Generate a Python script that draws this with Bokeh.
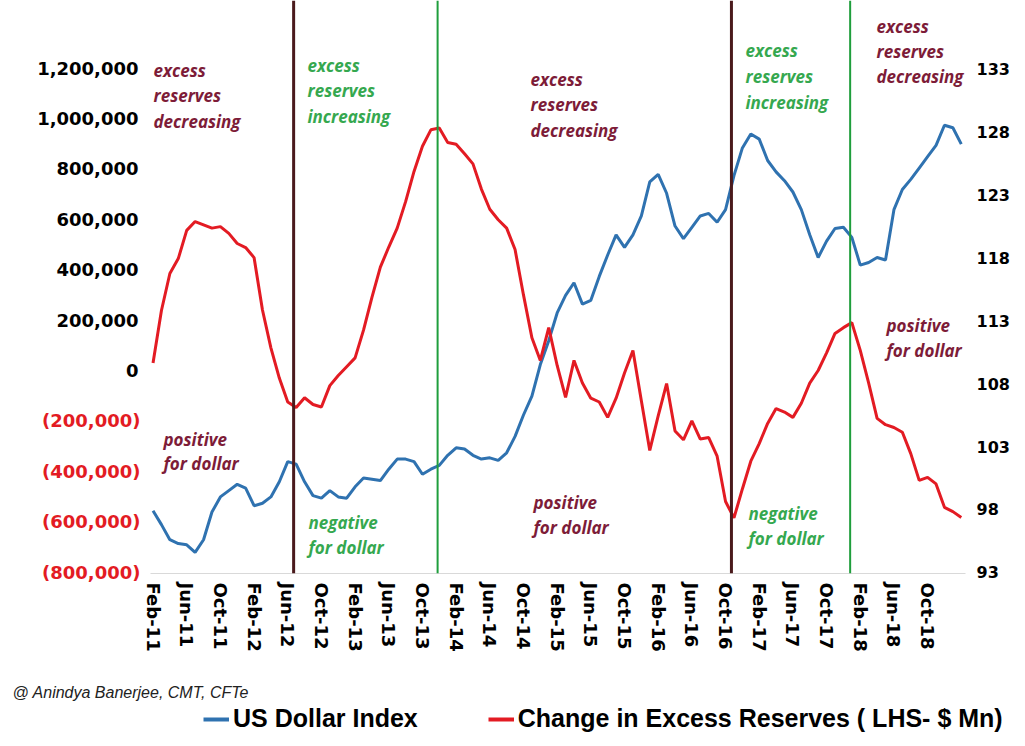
from bokeh.plotting import figure
from bokeh.layouts import column
from bokeh.models import (LinearAxis, Range1d, FixedTicker, Span, Legend,
                          LegendItem, ColumnDataSource)
from bokeh.core.properties import value
from bokeh.embed import file_html
from bokeh.resources import INLINE

# ---------------- data ----------------
MONTH_INDEX = list(range(97))  # Feb-11 ... Feb-19, monthly
TICK_INDEX = list(range(0, 93, 4))
TICK_LABELS = ["Feb-11", "Jun-11", "Oct-11", "Feb-12", "Jun-12", "Oct-12", "Feb-13", "Jun-13",
               "Oct-13", "Feb-14", "Jun-14", "Oct-14", "Feb-15", "Jun-15", "Oct-15", "Feb-16",
               "Jun-16", "Oct-16", "Feb-17", "Jun-17", "Oct-17", "Feb-18", "Jun-18", "Oct-18"]

EXCESS_RESERVES_CHG = [
    30000, 238000, 385000, 444000, 556000, 591000, 578000, 565000, 571000, 544000,
    504000, 488000, 448000, 240000, 90000, -30000, -125000, -147000, -108000, -135000,
    -145000, -60000, -20000, 15000, 50000, 160000, 290000, 410000, 490000, 565000,
    670000, 790000, 890000, 955000, 962000, 905000, 898000, 860000, 820000, 720000,
    640000, 598000, 565000, 480000, 300000, 130000, 40000, 170000, 20000, -107000,
    40000, -50000, -110000, -125000, -186000, -110000, -10000, 79000, -120000, -317000,
    -180000, -52000, -240000, -275000, -200000, -272000, -266000, -340000, -520000, -585000,
    -470000, -360000, -290000, -210000, -151000, -165000, -186000, -130000, -50000, 0,
    70000, 147000, 170000, 190000, 80000, -50000, -190000, -215000, -226000, -245000,
    -330000, -436000, -424000, -450000, -543000, -560000, -583000]

USD_INDEX = [
    97.9, 96.8, 95.6, 95.3, 95.2, 94.6, 95.6, 97.8, 99.0, 99.5,
    100.0, 99.7, 98.3, 98.5, 99.0, 100.2, 101.8, 101.6, 100.2, 99.1,
    98.9, 99.5, 99.0, 98.9, 99.8, 100.5, 100.4, 100.3, 101.2, 102.0,
    102.0, 101.8, 100.8, 101.2, 101.5, 102.3, 102.9, 102.8, 102.3, 102.0,
    102.1, 101.9, 102.5, 103.8, 105.5, 107.0, 109.5, 111.4, 113.6, 115.0,
    116.0, 114.3, 114.6, 116.5, 118.2, 119.8, 118.8, 119.8, 121.3, 124.0,
    124.6, 123.1, 120.5, 119.5, 120.4, 121.3, 121.5, 120.8, 121.8, 124.5,
    126.7, 127.8, 127.4, 125.7, 124.8, 124.1, 123.2, 121.8, 119.8, 118.0,
    119.3, 120.3, 120.4, 119.6, 117.4, 117.6, 118.0, 117.8, 121.8, 123.4,
    124.2, 125.1, 126.0, 126.9, 128.5, 128.3, 127.0]

LEFT_POS_TICKS = [1200000, 1000000, 800000, 600000, 400000, 200000, 0]
LEFT_NEG_TICKS = [-200000, -400000, -600000, -800000]
RIGHT_TICKS = [93, 98, 103, 108, 113, 118, 123, 128, 133]

# turning points (month index) marked by vertical lines
TURNS_DOWN = [16.7, 68.7]   # dark lines
TURNS_UP = [33.8, 82.8]     # green lines

# ---------------- geometry ----------------
W = 1024
H_MAIN, H_FOOT = 668, 77
FRAME_L, FRAME_R, FRAME_T, FRAME_B = 150, 965, 0, 573  # image coords
XS, XE = -0.3, 96.5
YS, YE = -805555, 1468254
RS, RE = 92.92, 138.40


def ix(px):
    return XS + (px - FRAME_L) / (FRAME_R - FRAME_L) * (XE - XS)


def ly(py):
    return YE - (py - FRAME_T) / (FRAME_B - FRAME_T) * (YE - YS)


MAROON = "#7d1c38"
GREEN = "#35a84f"
BLUE = "#2f72b0"
RED = "#e31b23"
TICK_FONT = "DejaVu Sans"
LEFT_SIZE = 18
LEFT_STANDOFF = 12
# width of the widest black label "1,200,000" (DejaVu Sans Bold advances, em units)
INNER_AXIS_W = LEFT_STANDOFF + (7 * 0.696 + 2 * 0.380) * LEFT_SIZE

p = figure(width=W, height=H_MAIN, output_backend="svg", toolbar_location=None,
           x_range=Range1d(XS, XE), y_range=Range1d(YS, YE),
           min_border_left=FRAME_L, min_border_right=W - FRAME_R,
           min_border_top=FRAME_T, min_border_bottom=H_MAIN - FRAME_B)
p.frame_align = False
p.extra_y_ranges = {"right": Range1d(RS, RE)}
p.outline_line_color = None
p.xgrid.visible = False
p.ygrid.visible = False
p.background_fill_color = "white"
p.border_fill_color = "white"

# vertical lines
for loc in TURNS_DOWN:
    p.add_layout(Span(location=loc, dimension="height", line_color="#4a1a1c", line_width=3))
for loc in TURNS_UP:
    p.add_layout(Span(location=loc, dimension="height", line_color="#1f9e3c", line_width=2))

src = ColumnDataSource(dict(x=MONTH_INDEX, red=EXCESS_RESERVES_CHG, blue=USD_INDEX))
r_blue = p.line("x", "blue", source=src, line_color=BLUE, line_width=3, y_range_name="right")
r_red = p.line("x", "red", source=src, line_color=RED, line_width=3)


def style_axis(ax, color, size):
    ax.major_label_text_font = TICK_FONT
    ax.major_label_text_font_style = "bold"
    ax.major_label_text_font_size = f"{size}px"
    ax.major_label_text_color = color
    ax.axis_line_color = None
    ax.major_tick_line_color = None
    ax.minor_tick_line_color = None
    ax.major_tick_out = 0
    ax.major_tick_in = 0


# x axis
xa = p.xaxis[0]
xa.ticker = FixedTicker(ticks=TICK_INDEX)
xa.major_label_overrides = {t: l for t, l in zip(TICK_INDEX, TICK_LABELS)}
style_axis(xa, "black", 18)
xa.major_label_orientation = "vertical"
xa.axis_line_color = "#d9d9d9"
xa.major_label_standoff = 9

# left axis: positive values in black
ya = p.yaxis[0]
ya.ticker = FixedTicker(ticks=LEFT_POS_TICKS)
ya.major_label_overrides = {t: f"{t:,}" for t in LEFT_POS_TICKS}
style_axis(ya, "black", LEFT_SIZE)
ya.major_label_standoff = LEFT_STANDOFF

# second left axis: negative values in red, pulled back onto the same column
yn = LinearAxis(ticker=FixedTicker(ticks=LEFT_NEG_TICKS))
yn.major_label_overrides = {t: f"({-t:,})" for t in LEFT_NEG_TICKS}
style_axis(yn, RED, LEFT_SIZE)
yn.major_label_standoff = int(round(LEFT_STANDOFF - INNER_AXIS_W)) - 5
p.add_layout(yn, "left")

# right axis
ra = LinearAxis(y_range_name="right", ticker=FixedTicker(ticks=RIGHT_TICKS))
style_axis(ra, "black", 16)
ra.major_label_standoff = 11
p.add_layout(ra, "right")

# annotations (left x, centre y of each line in image pixels)
NOTES = [
    (153, [70, 95, 121], ["excess", "reserves", "decreasing"], MAROON),
    (307, [65, 90, 116], ["excess", "reserves", "increasing"], GREEN),
    (530, [79, 104, 130], ["excess", "reserves", "decreasing"], MAROON),
    (745, [50, 76, 102], ["excess", "reserves", "increasing"], GREEN),
    (876, [26, 51, 76], ["excess", "reserves", "decreasing"], MAROON),
    (163, [439, 463], ["positive", "for dollar"], MAROON),
    (308, [522, 547], ["negative", "for dollar"], GREEN),
    (533, [502, 527], ["positive", "for dollar"], MAROON),
    (748, [513, 538], ["negative", "for dollar"], GREEN),
    (886, [325, 350], ["positive", "for dollar"], MAROON),
]
nx, ny, nt, nc = [], [], [], []
for px, pys, lines, col in NOTES:
    for py, line in zip(pys, lines):
        nx.append(ix(px)); ny.append(ly(py)); nt.append(line); nc.append(col)
p.text(x=nx, y=ny, text=nt, text_color=nc, text_font=value("Open Sans"),
       text_font_style="bold italic", text_font_size="17px", text_baseline="middle",
       text_align="left")

# ---------------- footer: credit + legend ----------------
f = figure(width=W, height=H_FOOT, output_backend="svg", toolbar_location=None,
           x_range=Range1d(0, W), y_range=Range1d(H_FOOT, 0),
           min_border_left=0, min_border_right=0, min_border_top=0, min_border_bottom=0)
f.frame_align = False
# ranges that keep the legend's series copies out of view (only their swatches are shown)
f.extra_y_ranges = {"hide_b": Range1d(1000, 2000), "hide_r": Range1d(5e7, 6e7)}
f.axis.visible = False
f.xgrid.visible = False
f.ygrid.visible = False
f.outline_line_color = None
f.background_fill_color = "white"
f.border_fill_color = "white"

f.text(x=[12], y=[692 - H_MAIN], text=["@ Anindya Banerjee, CMT, CFTe"],
       text_font=value("Liberation Sans"), text_font_style="italic",
       text_font_size="16px", text_color="#222222", text_baseline="middle")

sw_blue = f.line("x", "blue", source=src, line_color=BLUE, line_width=4, y_range_name="hide_b")
sw_red = f.line("x", "red", source=src, line_color=RED, line_width=4, y_range_name="hide_r")
legend = Legend(items=[LegendItem(label="US Dollar Index", renderers=[sw_blue]),
                       LegendItem(label="Change in Excess Reserves ( LHS- $ Mn)", renderers=[sw_red])],
                orientation="horizontal", location=(203, 12),
                background_fill_alpha=0, border_line_alpha=0,
                label_text_font="Liberation Sans", label_text_font_style="bold",
                label_text_font_size="25px", label_text_color="black",
                glyph_width=26, glyph_height=26, label_standoff=4, spacing=70,
                padding=0, margin=0)
f.add_layout(legend)

open("out.html", "w").write(file_html(column(p, f, spacing=0), INLINE))
